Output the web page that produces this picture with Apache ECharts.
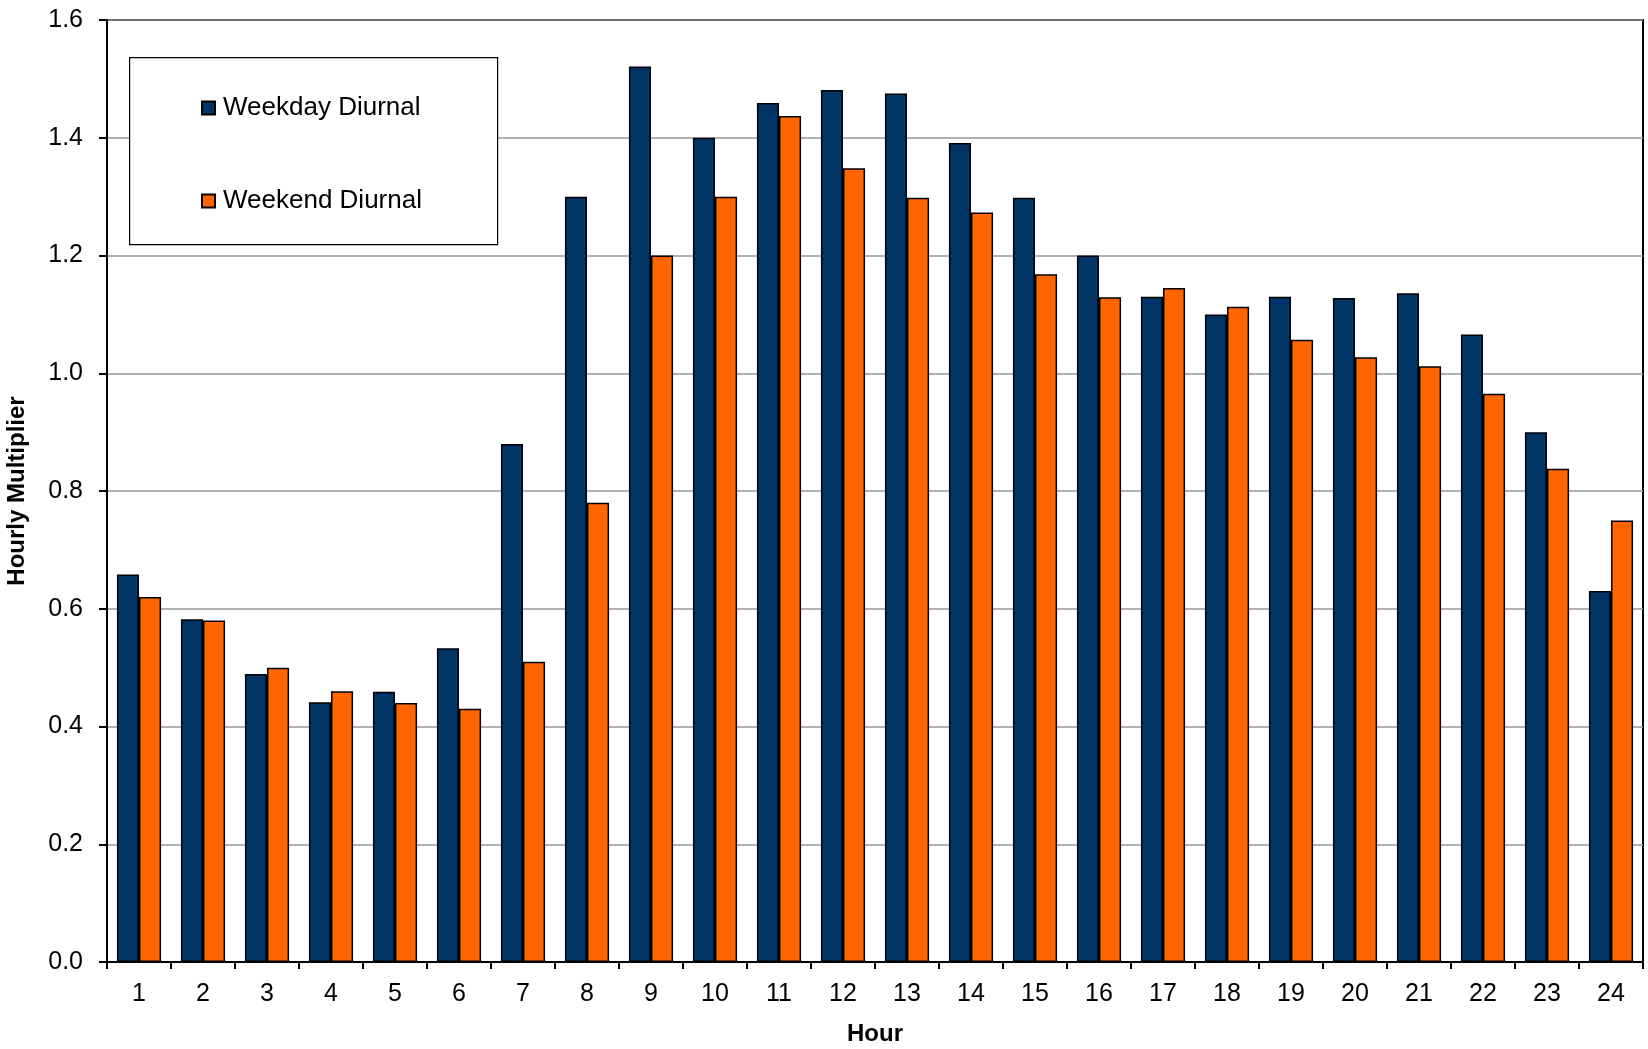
<!DOCTYPE html>
<html>
<head>
<meta charset="utf-8">
<script src="https://cdn.jsdelivr.net/npm/echarts@6/dist/echarts.min.js"></script>
<style>
  html, body { margin: 0; padding: 0; background: #fff; }
  #chart { width: 1648px; height: 1049px; }
</style>
</head>
<body>
<div id="chart"></div>
<script>
// Hour of day (1-24)
const hours = ['1','2','3','4','5','6','7','8','9','10','11','12','13','14','15','16','17','18','19','20','21','22','23','24'];

// Hourly traffic multipliers
const weekday = [0.658, 0.582, 0.489, 0.441, 0.459, 0.533, 0.880, 1.300, 1.521, 1.400, 1.459, 1.481,
                 1.475, 1.391, 1.298, 1.200, 1.130, 1.100, 1.130, 1.128, 1.136, 1.066, 0.900, 0.630];
const weekend = [0.620, 0.580, 0.500, 0.460, 0.440, 0.430, 0.510, 0.780, 1.200, 1.300, 1.437, 1.348,
                 1.298, 1.273, 1.168, 1.129, 1.145, 1.113, 1.057, 1.027, 1.012, 0.965, 0.838, 0.750];

const FONT = '"Liberation Sans", Arial, sans-serif';

const chart = echarts.init(document.getElementById('chart'), null, { renderer: 'canvas' });

chart.setOption({
  backgroundColor: '#ffffff',
  animation: false,
  grid: {
    left: 107, right: 5, top: 20, bottom: 87,
    outerBoundsMode: 'none',
    containLabel: false,
    show: true, borderColor: '#000', borderWidth: 2, backgroundColor: 'transparent'
  },
  graphic: [{
    type: 'rect',
    left: 129, top: 57, z: 50,
    shape: { width: 368, height: 187 },
    style: { fill: '#fff', stroke: '#000', lineWidth: 1.2 }
  }],
  legend: {
    orient: 'vertical',
    left: 196, top: 90,
    icon: 'rect',
    itemWidth: 13, itemHeight: 13,
    itemGap: 67,
    z: 60,
    textStyle: { fontFamily: FONT, fontSize: 26, color: '#000', lineHeight: 26, padding: [0, 0, 0, 3] },
    data: ['Weekday Diurnal', 'Weekend Diurnal']
  },
  xAxis: {
    type: 'category',
    data: hours,
    name: 'Hour',
    nameLocation: 'middle',
    nameGap: 60,
    nameTextStyle: { fontFamily: FONT, fontSize: 24, fontWeight: 'bold', color: '#000' },
    axisLine: { lineStyle: { color: '#000', width: 2 } },
    axisTick: { show: true, alignWithLabel: false, length: 7, lineStyle: { color: '#000', width: 2 } },
    axisLabel: { fontFamily: FONT, fontSize: 25, color: '#000', margin: 20 },
    splitLine: { show: false }
  },
  yAxis: {
    type: 'value',
    min: 0, max: 1.6, interval: 0.2,
    name: 'Hourly Multiplier',
    nameLocation: 'middle',
    nameRotate: 90,
    nameGap: 78,
    nameTextStyle: { fontFamily: FONT, fontSize: 24, fontWeight: 'bold', color: '#000' },
    axisLine: { show: true, lineStyle: { color: '#000', width: 2 } },
    axisTick: { show: true, length: 8, lineStyle: { color: '#000', width: 2 } },
    axisLabel: {
      fontFamily: FONT, fontSize: 25, color: '#000', margin: 24,
      formatter: v => v.toFixed(1)
    },
    splitLine: { show: true, lineStyle: { color: '#999', width: 1.5 } }
  },
  series: [
    {
      name: 'Weekday Diurnal',
      type: 'bar',
      data: weekday,
      barGap: '0%',
      barCategoryGap: '31%',
      itemStyle: { color: '#003366', borderColor: '#000', borderWidth: 1.5 }
    },
    {
      name: 'Weekend Diurnal',
      type: 'bar',
      data: weekend,
      barGap: '0%',
      barCategoryGap: '31%',
      itemStyle: { color: '#ff6600', borderColor: '#000', borderWidth: 1.5 }
    }
  ]
});
</script>
</body>
</html>
